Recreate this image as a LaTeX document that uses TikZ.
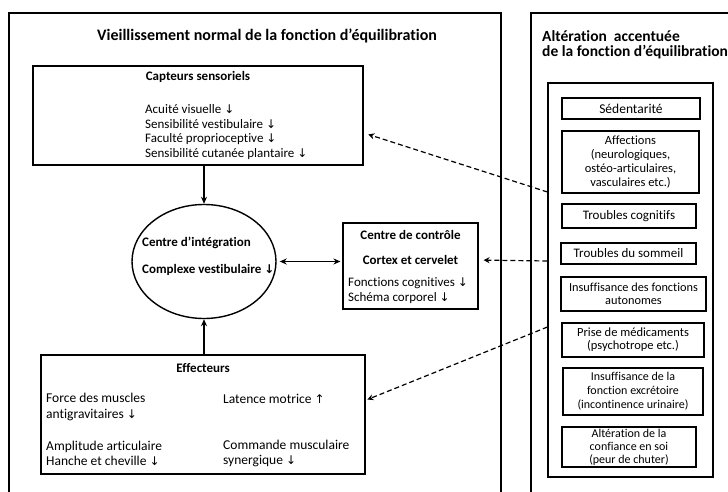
\documentclass[tikz,border=0pt]{standalone}
\usepackage{fontspec}
\setmainfont{Carlito}[Ligatures=NoCommon]
\newfontfamily\symfont{DejaVu Sans}
\usetikzlibrary{arrows.meta,shapes.geometric,positioning}
\newcommand{\dn}{{\symfont\fontsize{12}{12}\selectfont ↓}}
\newcommand{\upa}{{\symfont\fontsize{12}{12}\selectfont ↑}}
\newcommand{\fsz}[2]{\fontsize{#1}{#2}\selectfont}

\tikzset{
  frame/.style={draw, line width=1.3pt},
  boxnode/.style={draw, line width=1.1pt, rectangle, inner sep=0pt},
  factor/.style={draw, line width=1.1pt, rectangle, inner sep=0pt, align=center, font=\fsz{13}{14}},
  head/.style={font=\bfseries\fsz{13}{15}},
  body/.style={align=left, anchor=west, inner sep=0pt, font=\fsz{13}{14.6}},
  flow/.style={-{Stealth[length=7pt,width=6pt]}, line width=1.3pt},
  twoway/.style={{Stealth[length=7pt,width=6pt]}-{Stealth[length=7pt,width=6pt]}, line width=1.3pt},
  risk/.style={-{Stealth[length=6pt,width=6pt]}, line width=1.2pt, dash pattern=on 5pt off 3pt},
}

\begin{document}
\begin{tikzpicture}[x=1pt, y=-1pt]
  \useasboundingbox (0,0) rectangle (728,492);
  \fill[white] (0,0) rectangle (728,492);
  \clip (0,0) rectangle (728,492);

  % two panels
  \draw[frame] (9,500) -- (9,13) -- (501,13) -- (501,500);
  \draw[frame] (531,500) -- (531,13) -- (740,13);
  \node[font=\bfseries\fsz{16}{18}] (titleL) at (267,36) {Vieillissement normal de la fonction d’équilibration};
  \node[font=\bfseries\fsz{15.5}{14.5}, anchor=west, align=left, inner sep=0pt] (titleR) at (542,45)
    {Altération\ \ accentuée\\de la fonction d’équilibration};

  % capteurs
  \node[boxnode, minimum width=330pt, minimum height=99pt] (capt) at (198,115.5) {};
  \node[head] (captT) at (198,77) {Capteurs sensoriels};
  \node[body] (captL) at (145,132) {Acuité visuelle \dn\\Sensibilité vestibulaire \dn\\Faculté proprioceptive \dn\\Sensibilité cutanée plantaire \dn};

  % integration
  \node[draw, ellipse, line width=1.4pt, minimum width=144pt, minimum height=114pt, inner sep=0pt] (integ) at (204,261.5) {};
  \node[head, anchor=west, inner sep=0pt] (integA) at (142,243) {Centre d’intégration};
  \node[head, anchor=west, inner sep=0pt] (integB) at (142,270) {Complexe vestibulaire \dn};

  % controle
  \node[boxnode, minimum width=135pt, minimum height=86pt] (ctrl) at (410.5,266) {};
  \node[head] (ctrlA) at (410.5,235) {Centre de contrôle};
  \node[head] (ctrlB) at (410.5,260) {Cortex et cervelet};
  \node[body, font=\fsz{13}{15}] (ctrlL) at (348,290.5) {Fonctions cognitives \dn\\Schéma corporel \dn};

  % effecteurs
  \node[boxnode, minimum width=324pt, minimum height=119pt] (eff) at (203,414.5) {};
  \node[head] (effT) at (203,368) {Effecteurs};
  \node[body, font=\fsz{13.5}{15.5}] (eff1) at (46,407) {Force des muscles\\antigravitaires \dn};
  \node[body, font=\fsz{13.5}{15.5}] (eff2) at (223,399) {Latence motrice \upa};
  \node[body, font=\fsz{13.5}{15.5}] (eff3) at (46,453.5) {Amplitude articulaire\\Hanche et cheville \dn};
  \node[body, font=\fsz{13.5}{15.5}] (eff4) at (223,453.5) {Commande musculaire\\synergique \dn};

  % facteurs
  \node[boxnode, minimum width=165pt, minimum height=394pt] (facteurs) at (630.5,280) {};
  \node[factor, font=\fsz{13.5}{14}, minimum width=138pt, minimum height=21pt] (sed) at (631,108.5) {Sédentarité};
  \node[factor, font=\fsz{12.5}{14}, minimum width=137pt, minimum height=62pt] (aff) at (630.5,162) {Affections\\(neurologiques,\\ostéo-articulaires,\\vasculaires etc.)};
  \node[factor, minimum width=134pt, minimum height=24pt] (cogn) at (629,216) {Troubles cognitifs};
  \node[factor, minimum width=135pt, minimum height=21pt] (somm) at (628.5,253.5) {Troubles du sommeil};
  \node[factor, font=\fsz{12.3}{13}, minimum width=145pt, minimum height=34pt] (auto) at (633.5,294) {Insuffisance des fonctions\\autonomes};
  \node[factor, font=\fsz{12.5}{13.3}, minimum width=142pt, minimum height=34pt] (medic) at (633,340) {Prise de médicaments\\(psychotrope etc.)};
  \node[factor, font=\fsz{12}{14}, minimum width=140pt, minimum height=47pt] (excr) at (633,391.5) {Insuffisance de la\\fonction excrétoire\\(incontinence urinaire)};
  \node[factor, font=\fsz{12}{13}, minimum width=134pt, minimum height=40pt] (conf) at (629,447) {Altération de la\\confiance en soi\\(peur de chuter)};

  % liens
  \draw[flow] (capt.south -| integ.north) -- (integ.north);
  \draw[flow] (eff.north -| integ.south) -- (integ.south);
  \draw[twoway, shorten <=3pt, shorten >=2pt] (integ.east) -- (integ.east -| ctrl.west);

  \coordinate (f1) at (facteurs.west |- 0,192);
  \coordinate (f2) at (facteurs.west |- 0,261);
  \coordinate (f3) at (facteurs.west |- 0,327);
  \draw[risk, shorten >=5pt] (f1) -- (capt.-6);
  \draw[risk, shorten >=5pt] (f2) -- (ctrl.5);
  \draw[risk, shorten >=2pt] (f3) -- (eff.5);
\end{tikzpicture}
\end{document}
